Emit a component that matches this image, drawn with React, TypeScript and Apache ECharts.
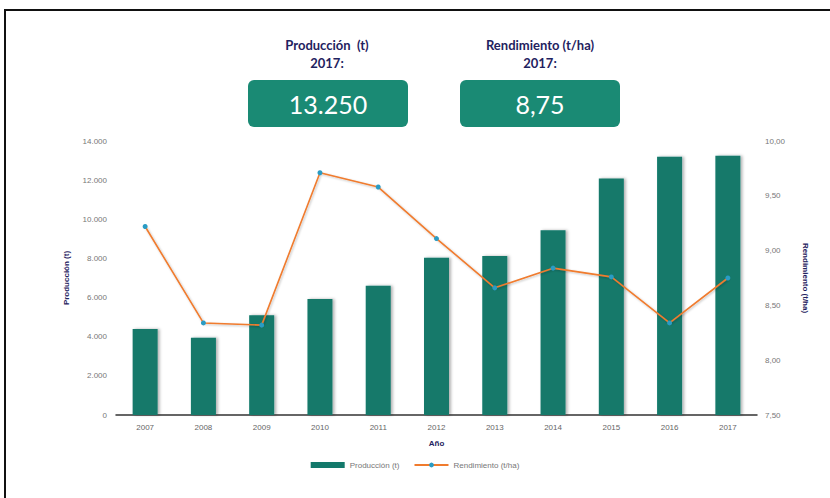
import React, { useEffect, useRef } from "react";
import * as echarts from "echarts";

const years = ["2007", "2008", "2009", "2010", "2011", "2012", "2013", "2014", "2015", "2016", "2017"];
const produccion = [4400, 3950, 5100, 5930, 6600, 8040, 8120, 9440, 12080, 13200, 13250];
const rendimiento = [9.22, 8.34, 8.32, 9.71, 9.58, 9.11, 8.66, 8.84, 8.76, 8.34, 8.75];
const leftTicks = { min: 0, max: 14000, interval: 2000 };
const rightTicks = { min: 7.5, max: 10, interval: 0.5 };

const fmtThousands = (v: number) => String(Math.round(v)).replace(/\B(?=(\d{3})+(?!\d))/g, ".");
const fmtDec = (v: number) => v.toFixed(2).replace(".", ",");

export default function App() {
  const ref = useRef<HTMLDivElement>(null);
  useEffect(() => {
    document.body.style.margin = "0";
    const chart = echarts.init(ref.current!, null, { renderer: "svg" });
    const navy = "#1f2260";
    const teal = "#1a8a74";
    const titleFont = "Lato, 'Open Sans', sans-serif";
    const lastProd = produccion[produccion.length - 1];
    const lastRend = rendimiento[rendimiento.length - 1];
    chart.setOption({
      animation: false,
      backgroundColor: "#ffffff",
      grid: { left: 116, right: 73, top: 141, bottom: 83 },
      legend: {
        bottom: 24,
        left: "center",
        itemGap: 14,
        textStyle: { color: "#777", fontSize: 8, fontFamily: "Liberation Sans, Arial, sans-serif" },
        data: [
          { name: "Producción (t)", icon: "rect", itemStyle: { color: "#13796b" } },
          { name: "Rendimiento (t/ha)" },
        ],
        itemWidth: 34,
        itemHeight: 6,
      },
      xAxis: {
        type: "category",
        data: years,
        name: "Año",
        nameLocation: "middle",
        nameGap: 24,
        nameTextStyle: { color: navy, fontSize: 8, fontWeight: "bold", fontFamily: "Liberation Sans, Arial, sans-serif" },
        axisLine: { lineStyle: { color: "#333", width: 1.5 } },
        axisTick: { show: false },
        axisLabel: { color: "#666", fontSize: 8, margin: 8, fontFamily: "Liberation Sans, Arial, sans-serif" },
      },
      yAxis: [
        {
          type: "value",
          ...leftTicks,
          name: "Producción (t)",
          nameLocation: "middle",
          nameGap: 46,
          nameTextStyle: { color: navy, fontSize: 8, fontWeight: "bold", fontFamily: "Liberation Sans, Arial, sans-serif" },
          axisLine: { show: false },
          axisTick: { show: false },
          splitLine: { show: false },
          axisLabel: { color: "#777", fontSize: 8, margin: 9, formatter: fmtThousands, fontFamily: "Liberation Sans, Arial, sans-serif" },
        },
        {
          type: "value",
          ...rightTicks,
          name: "Rendimiento (t/ha)",
          nameLocation: "middle",
          nameGap: 44,
          nameRotate: -90,
          nameTextStyle: { color: navy, fontSize: 8, fontWeight: "bold", fontFamily: "Liberation Sans, Arial, sans-serif" },
          axisLine: { show: false },
          axisTick: { show: false },
          splitLine: { show: false },
          axisLabel: { color: "#777", fontSize: 8, margin: 8, formatter: fmtDec, fontFamily: "Liberation Sans, Arial, sans-serif" },
        },
      ],
      series: [
        {
          name: "Producción (t)",
          type: "bar",
          data: produccion,
          barWidth: 25,
          itemStyle: {
            color: "#13796b",
            shadowBlur: 3,
            shadowColor: "rgba(0,0,0,0.3)",
            shadowOffsetX: 2,
            shadowOffsetY: 0,
          },
        },
        {
          name: "Rendimiento (t/ha)",
          type: "line",
          yAxisIndex: 1,
          data: rendimiento,
          symbol: "circle",
          symbolSize: 5,
          lineStyle: { color: "#f07b2e", width: 1.6, shadowBlur: 2, shadowColor: "rgba(0,0,0,0.25)", shadowOffsetX: 1, shadowOffsetY: 1 },
          itemStyle: { color: "#2a9cc4", borderColor: "#2a9cc4", borderWidth: 0 },
        },
      ],
      graphic: [
        {
          type: "rect",
          shape: { x: 5, y: 10, width: 840, height: 500 },
          style: { fill: "none", stroke: "#111", lineWidth: 2 },
          silent: true,
        },
        {
          type: "text",
          x: 327, y: 45,
          style: { text: "Producción  (t)", fill: navy, font: `bold 13px ${titleFont}`, align: "center", verticalAlign: "middle" },
        },
        {
          type: "text",
          x: 327, y: 63,
          style: { text: "2017:", fill: navy, font: `bold 13px ${titleFont}`, align: "center", verticalAlign: "middle" },
        },
        {
          type: "rect",
          shape: { x: 248, y: 80, width: 160, height: 47, r: 6 },
          style: { fill: teal },
        },
        {
          type: "text",
          x: 328, y: 104,
          style: { text: fmtThousands(lastProd), fill: "#ffffff", font: `25px ${titleFont}`, align: "center", verticalAlign: "middle" },
        },
        {
          type: "text",
          x: 540, y: 45,
          style: { text: "Rendimiento (t/ha)", fill: navy, font: `bold 13px ${titleFont}`, align: "center", verticalAlign: "middle" },
        },
        {
          type: "text",
          x: 540, y: 63,
          style: { text: "2017:", fill: navy, font: `bold 13px ${titleFont}`, align: "center", verticalAlign: "middle" },
        },
        {
          type: "rect",
          shape: { x: 460, y: 80, width: 160, height: 47, r: 6 },
          style: { fill: teal },
        },
        {
          type: "text",
          x: 540, y: 104,
          style: { text: fmtDec(lastRend), fill: "#ffffff", font: `25px ${titleFont}`, align: "center", verticalAlign: "middle" },
        },
      ],
    });
    return () => chart.dispose();
  }, []);
  return <div ref={ref} style={{ width: 830, height: 498 }} />;
}
